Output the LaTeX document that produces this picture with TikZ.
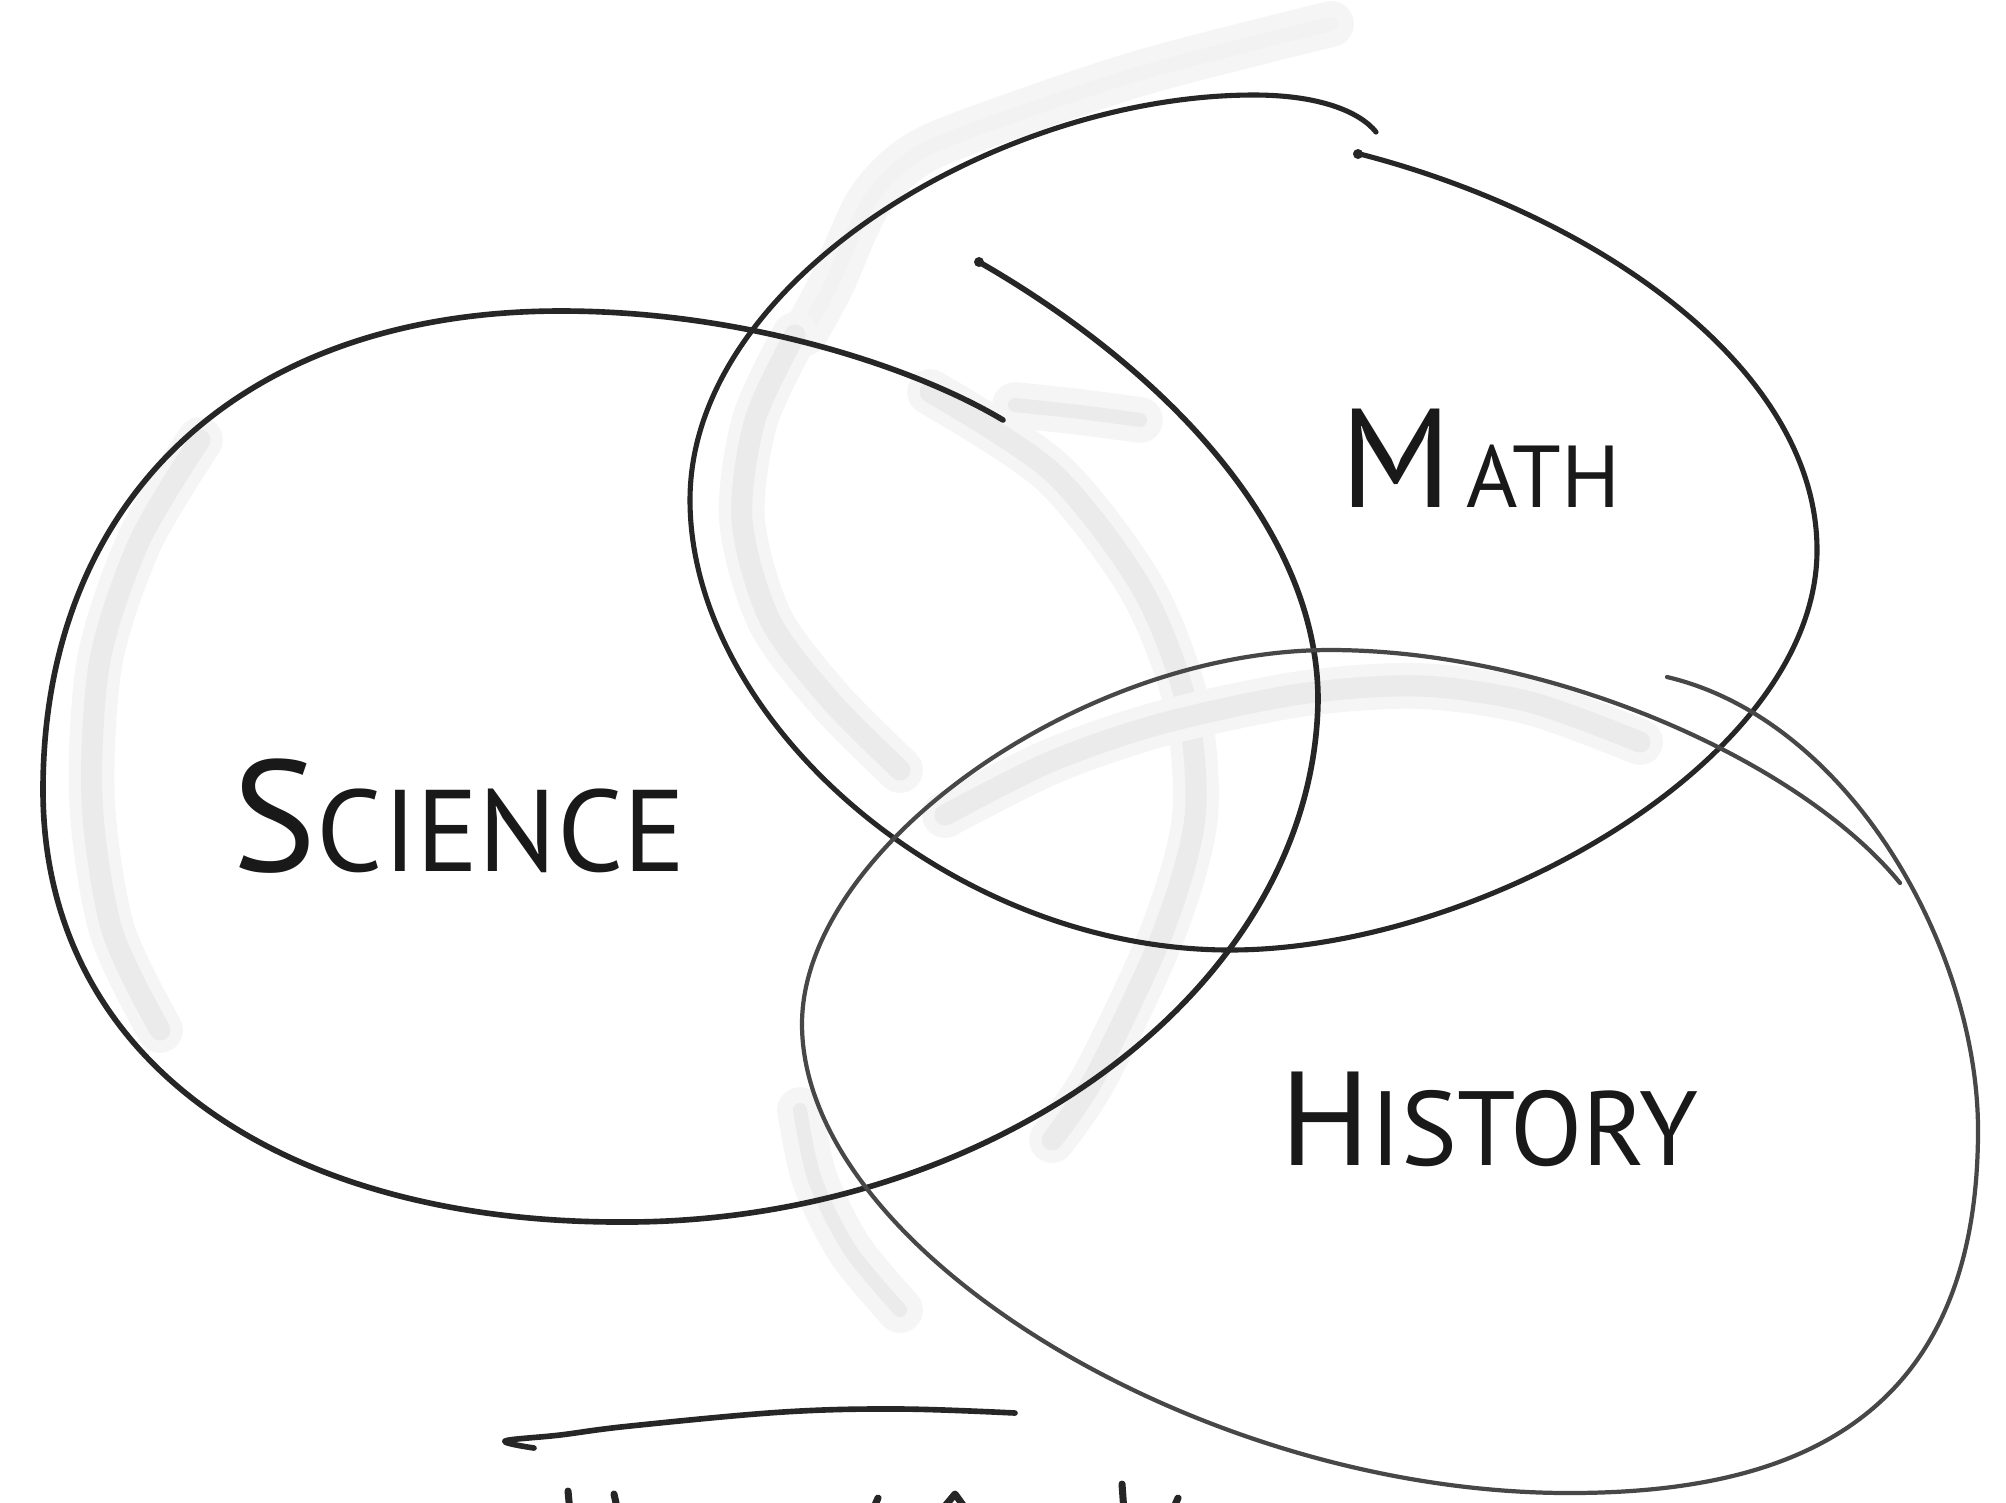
\documentclass[tikz,border=0pt]{standalone}
\usepackage{fontspec}
\setmainfont{PT Sans}
\newcommand{\szbig}[1]{\fontsize{#1}{#1}\selectfont}
\tikzset{
  ink/.style={line width=1.5pt, color=black!85, line cap=round, line join=round},
  inklight/.style={line width=1.2pt, color=black!72, line cap=round, line join=round},
  smudge/.style={line width=6pt, color=black!8, line cap=round, line join=round,
     preaction={draw, line width=13pt, color=black!4, line cap=round}},
  lbl/.style={inner sep=0pt, anchor=base west, text=black!90},
}
\begin{document}
\begin{tikzpicture}[x=0.01cm, y=-0.01cm]
\useasboundingbox (0,0) rectangle (2006,1502);
\fill[white] (0,0) rectangle (2006,1502);

% soft pencil smudges
\draw[smudge] plot[smooth] coordinates {(200,440) (140,540) (100,660) (92,800) (112,930) (160,1030)};
\draw[smudge, line width=4pt, color=black!5] plot[smooth] coordinates {(1331,24) (1151,70) (1023,112) (921,152) (870,200) (832,283) (805,333)};
\draw[smudge] plot[smooth] coordinates {(795,335) (755,420) (742,520) (770,620) (830,700) (900,770)};
\draw[smudge] plot[smooth] coordinates {(930,392) (1052,472) (1141,587) (1186,702) (1195,817) (1163,932) (1096,1075) (1052,1140)};
\draw[smudge] plot[smooth] coordinates {(945,815) (1050,762) (1160,724) (1300,694) (1420,686) (1530,702) (1640,742)};
\draw[smudge, line width=4pt] plot[smooth] coordinates {(1015,405) (1080,412) (1140,420)};
\draw[smudge, line width=4pt] plot[smooth] coordinates {(800,1110) (815,1180) (850,1250) (900,1310)};

% Science
\draw[ink, line width=1.6pt]
  (979,262) .. controls (1150,360) and (1318,520) .. (1318,700)
  .. controls (1314,990) and (990,1224) .. (620,1222)
  .. controls (280,1222) and (43,1060) .. (43,790)
  .. controls (43,500) and (240,311) .. (561,311)
  .. controls (750,311) and (920,370) .. (1003,420);
\fill[black!85] (979,262) circle (5);

% Math
\draw[ink, line width=1.45pt]
  (1356,153) .. controls (1600,215) and (1817,370) .. (1817,550)
  .. controls (1817,760) and (1480,950) .. (1230,950)
  .. controls (950,950) and (690,720) .. (690,500)
  .. controls (690,280) and (1000,95) .. (1254,95)
  .. controls (1320,95) and (1360,112) .. (1376,132);
\fill[black!85] (1358,154) circle (5);

% History
\draw[inklight]
  (1667,677) .. controls (1850,720) and (1978,950) .. (1978,1130)
  .. controls (1978,1430) and (1780,1493) .. (1569,1493)
  .. controls (1200,1493) and (802,1250) .. (802,1024)
  .. controls (802,850) and (1080,650) .. (1330,650)
  .. controls (1550,650) and (1800,760) .. (1900,883);

% lone stroke at the bottom
\draw[ink, line width=1.6pt] plot[smooth, tension=0.6] coordinates {
 (534,1448) (505,1441) (560,1435) (630,1426) (783,1412) (900,1409) (1015,1413)};

% tops of the cut-off letters at the lower edge
\draw[ink, line width=2pt] (568,1491) -- (570,1512);
\draw[ink, line width=2pt] (614,1494) -- (618,1512);
\draw[ink, line width=2pt] (872,1512) -- (878,1498);
\draw[ink, line width=2pt] (940,1512) -- (955,1494) -- (968,1512);
\draw[ink, line width=2pt] (1122,1484) -- (1124,1512);
\draw[ink, line width=2pt] (1172,1512) -- (1178,1498);

% labels
\node[lbl] (science) at (232,871) {{\szbig{45pt}S}{\szbig{33pt}CIENCE}};
\node[lbl] (math) at (1340,507) {{\szbig{40pt}M}{\szbig{25pt}\,ATH}};
\node[lbl] (history) at (1280,1165) {{\szbig{38pt}H}{\szbig{30pt}ISTORY}};
\end{tikzpicture}
\end{document}
